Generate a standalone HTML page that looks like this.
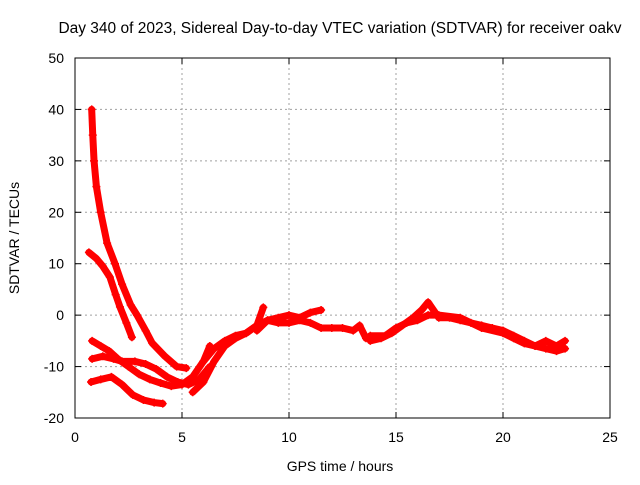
<!DOCTYPE html>
<html><head><meta charset="utf-8"><style>
body{margin:0;background:#fff}
svg text{font-family:"Liberation Sans",sans-serif;font-size:14px;fill:#000}
</style></head><body>
<svg id="chart" width="640" height="480">
<rect width="640" height="480" fill="#fff"/>
<text x="340" y="33" text-anchor="middle" style="font-size:15.5px">Day 340 of 2023, Sidereal Day-to-day VTEC variation (SDTVAR) for receiver oakv</text>
<g id="grid"></g><g id="series"></g>
<rect x="75" y="58" width="535" height="360" fill="none" stroke="#000"/>
<g id="ticks"></g>
<text x="340" y="471" text-anchor="middle">GPS time / hours</text>
<text transform="translate(19,238) rotate(-90)" text-anchor="middle">SDTVAR / TECUs</text>
</svg>
<script>
const xTicks=[0,5,10,15,20,25];
const yTicks=[-20,-10,0,10,20,30,40,50];
const trackAx=[0.78,0.83,0.89,1.0,1.2,1.5,1.87,2.2,2.6,2.9,3.3,3.6,4.2,4.75,5.2];
const trackAy=[40,35,30,25,20,14,10,6,2,0,-3,-5.4,-8,-10,-10.3];
const trackBx=[0.65,1.0,1.3,1.63,1.9,2.1,2.4,2.66];
const trackBy=[12.2,11,9.5,7.4,4,1.6,-1.5,-4.3];
const trackCx=[0.8,1.2,1.6,2.0,2.5,3.0,3.5,4.0,4.5,5.0,5.5,6.0,6.3];
const trackCy=[-5,-6,-7,-8.5,-10,-11.5,-12.5,-13.2,-13.8,-13.5,-12,-9,-6];
const trackDx=[0.8,1.3,1.8,2.2,2.8,3.3,3.8,4.3,4.8,5.3,5.8,6.3];
const trackDy=[-8.5,-8,-8.5,-9,-9,-9.5,-10.5,-12,-13,-13.5,-12.5,-10];
const trackEx=[0.75,1.2,1.7,2.2,2.7,3.2,3.7,4.1];
const trackEy=[-13,-12.5,-12,-13.5,-15.5,-16.5,-17,-17.2];
const trackFx=[5.5,6.0,6.5,7.0,7.5,8.0,8.5,8.8];
const trackFy=[-15,-13,-9,-6,-4.5,-3.5,-2,1.5];
const trackGx=[6.0,6.5,7.0,7.5,8.0,8.5,9.0,9.5,10.0,10.5,11.0,11.5];
const trackGy=[-9,-6.5,-5,-4,-3.5,-2,-1,-0.5,0,-0.5,0.5,1];
const trackHx=[8.5,9.0,9.5,10.0,10.5,11.0,11.5,12.0,12.5,13.0,13.3,13.6];
const trackHy=[-3,-1,-1.5,-1.5,-1,-1.5,-2.5,-2.5,-2.5,-3,-2,-4.5];
const trackIx=[13.8,14.3,14.8,15.3,15.8,16.2,16.5,17,17.5,18,18.5,19,19.5,20,20.5,21,21.5,22,22.5,22.9];
const trackIy=[-5,-4.5,-3.5,-2,-0.5,1,2.5,-0.5,-0.5,-1,-1.5,-2,-2.5,-3,-4,-5,-6,-6.5,-7,-6.5];
const trackJx=[13.8,14.5,15.0,15.5,16.0,16.5,17.0,18.0,19.0,20.0,20.5,21.0,21.5,22.0,22.5,22.9];
const trackJy=[-4,-4,-2.5,-1.5,-1,0,0,-0.5,-2.5,-3.5,-4.5,-5.5,-6,-5,-6,-5];
const tracks=[[trackAx,trackAy],[trackBx,trackBy],[trackCx,trackCy],[trackDx,trackDy],[trackEx,trackEy],[trackFx,trackFy],[trackGx,trackGy],[trackHx,trackHy],[trackIx,trackIy],[trackJx,trackJy]];
const NS='http://www.w3.org/2000/svg';
const X=v=>75+v*535/25, Y=v=>418-(v+20)*360/70;
function mk(t,a,p){const e=document.createElementNS(NS,t);for(const k in a)e.setAttribute(k,a[k]);p.appendChild(e);return e;}
const grid=document.getElementById('grid'),ticks=document.getElementById('ticks'),ser=document.getElementById('series');
xTicks.forEach(v=>{
 if(v>0&&v<25){const g=mk('line',{x1:X(v),x2:X(v),y1:58,y2:418,stroke:'#a0a0a0','stroke-dasharray':'2,3'},grid);
 
 }
 mk('line',{x1:X(v),x2:X(v),y1:418,y2:412,stroke:'#000'},ticks);
 mk('line',{x1:X(v),x2:X(v),y1:58,y2:64,stroke:'#000'},ticks);
 const t=mk('text',{x:X(v),y:442,'text-anchor':'middle'},ticks);t.textContent=v;
 
 
});
yTicks.forEach(v=>{
 if(v>-20&&v<50){const g=mk('line',{x1:75,x2:610,y1:Y(v),y2:Y(v),stroke:'#a0a0a0','stroke-dasharray':'2,3'},grid);
 
 }
 mk('line',{x1:75,x2:81,y1:Y(v),y2:Y(v),stroke:'#000'},ticks);
 mk('line',{x1:610,x2:604,y1:Y(v),y2:Y(v),stroke:'#000'},ticks);
 const t=mk('text',{x:64,y:Y(v)+5,'text-anchor':'end'},ticks);t.textContent=v;
 
 
});
tracks.forEach(([xs,ys],i)=>{
 const pts=xs.map((x,j)=>X(x)+','+Y(ys[j])).join(' ');
 const pl=mk('polyline',{points:pts,fill:'none',stroke:'#f00','stroke-width':7,'stroke-linejoin':'round','stroke-linecap':'round'},ser);
 
 
 xs.forEach((x,j)=>{const cx=X(x),cy=Y(ys[j]);
  const m=mk('path',{d:`M${cx-4},${cy}h8M${cx},${cy-4}v8`,stroke:'#f00','stroke-width':1.5},ser);
  
  });
});
</script>
</body></html>
